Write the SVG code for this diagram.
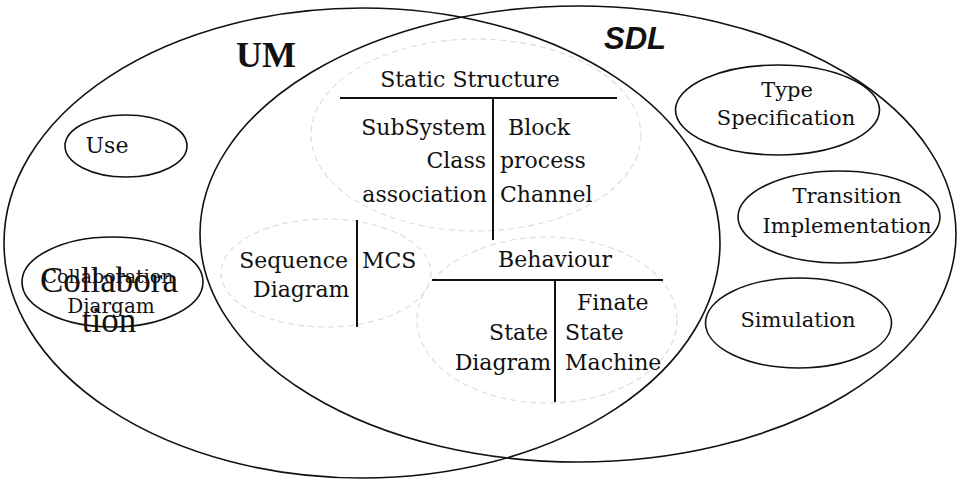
<svg xmlns="http://www.w3.org/2000/svg" width="962" height="480" viewBox="0 0 962 480">
<style>
.big{fill:none;stroke:#111;stroke-width:1.6}
.el{fill:none;stroke:#111;stroke-width:1.6}
.faint{fill:none;stroke:#dedede;stroke-width:1.2;stroke-dasharray:6 4}
.rule{stroke:#111;stroke-width:2}
.t{font-family:"DejaVu Serif","Liberation Serif",serif;font-size:22px;fill:#111}
.s{font-size:21px}
.m{text-anchor:middle}
.e{text-anchor:end}
.bg{font-family:"Liberation Serif",serif;font-size:35px;fill:#111;text-anchor:middle}
</style>
<rect width="962" height="480" fill="#fff"/>
<g id="faint-outlines">
<ellipse class="faint" cx="476" cy="135" rx="165" ry="96"/>
<ellipse class="faint" cx="326" cy="273" rx="105" ry="54"/>
<ellipse class="faint" cx="547" cy="320" rx="130" ry="83"/>
</g>
<g id="UM">
<ellipse class="big" cx="362" cy="243" rx="358" ry="235"/>
<text x="266" y="67" text-anchor="middle" style="font-family:'Liberation Serif',serif;font-size:36px;font-weight:bold;fill:#111">UM</text>
</g>
<g id="SDL">
<ellipse class="big" cx="578" cy="234" rx="378" ry="228"/>
<text x="635" y="49" text-anchor="middle" style="font-family:'Liberation Sans',sans-serif;font-size:31px;font-weight:bold;font-style:italic;fill:#111">SDL</text>
</g>
<g id="use">
<ellipse class="el" cx="126" cy="146" rx="61" ry="31"/>
<text class="t" x="107" y="153" text-anchor="middle">Use</text>
</g>
<g id="collaboration">
<ellipse class="el" cx="112.5" cy="282" rx="90.5" ry="45"/>
<text class="bg" x="109" y="292">Collabora</text>
<text class="bg" x="109" y="332">tion</text>
<text class="t" x="108" y="283" text-anchor="middle" style="font-size:19px">Collaboration</text>
<text class="t" x="111" y="313" text-anchor="middle" style="font-size:20px">Diargam</text>
</g>
<g id="static-structure">
<text class="t m" x="470" y="87">Static Structure</text>
<line class="rule" x1="340" y1="98" x2="617" y2="98"/>
<line class="rule" x1="493" y1="98" x2="493" y2="240"/>
<text class="t e" x="486" y="135">SubSystem</text>
<text class="t e" x="486" y="168">Class</text>
<text class="t e" x="487" y="202">association</text>
<text class="t" x="508" y="135">Block</text>
<text class="t" x="500" y="168">process</text>
<text class="t" x="500" y="202">Channel</text>
</g>
<g id="mcs">
<line class="rule" x1="357" y1="220" x2="357" y2="327"/>
<text class="t e" x="348" y="268">Sequence</text>
<text class="t" x="253" y="297">Diagram</text>
<text class="t" x="362" y="268">MCS</text>
</g>
<g id="behaviour">
<text class="t m" x="555" y="267">Behaviour</text>
<line class="rule" x1="432" y1="280" x2="663" y2="280"/>
<line class="rule" x1="555" y1="280" x2="555" y2="402"/>
<text class="t" x="577" y="310">Finate</text>
<text class="t e" x="548" y="340">State</text>
<text class="t e" x="551" y="370">Diagram</text>
<text class="t" x="565" y="340">State</text>
<text class="t" x="565" y="370">Machine</text>
</g>
<g id="type-specification">
<ellipse class="el" cx="777.5" cy="110" rx="102" ry="45"/>
<text class="t s m" x="787" y="97">Type</text>
<text class="t s m" x="786" y="125">Specification</text>
</g>
<g id="transition-implementation">
<ellipse class="el" cx="839" cy="217" rx="101" ry="46"/>
<text class="t s m" x="847" y="203">Transition</text>
<text class="t s m" x="847" y="233">Implementation</text>
</g>
<g id="simulation">
<ellipse class="el" cx="798.5" cy="323" rx="93" ry="45"/>
<text class="t s m" x="798" y="327">Simulation</text>
</g>
<g id="connectors"></g>
</svg>
